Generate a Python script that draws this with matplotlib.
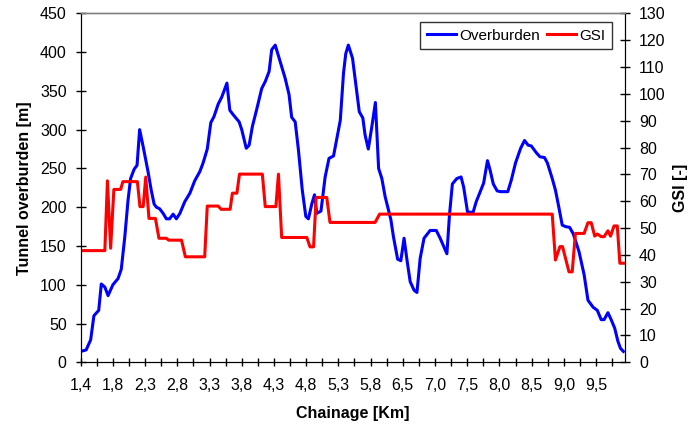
import numpy as np
import matplotlib
matplotlib.use('Agg')
import matplotlib.pyplot as plt

plt.rcParams['font.family'] = ['Liberation Sans', 'DejaVu Sans']

# chainage labels (category axis, one label every 10 samples)
chainage_labels = ['1,4', '1,8', '2,3', '2,8', '3,3', '3,8', '4,3', '4,8', '5,3',
                   '5,8', '6,5', '7,0', '7,5', '8,0', '8,5', '9,0', '9,5']
label_pos = np.arange(0, 170, 10)
minor_pos = np.arange(5, 170, 10)

# overburden [m] (x = sample index along chainage)
ob_x = [0, 1.7, 3.1, 4.1, 5.6, 6.4, 7.5, 8.5, 10.0, 11.6, 12.6, 13.7, 14.7, 15.5,
        16.6, 17.5, 18.3, 19.4, 20.9, 21.9, 22.8, 23.5, 24.5, 25.6, 26.6, 27.6,
        28.7, 29.7, 30.8, 32.3, 33.9, 35.4, 37.0, 38.0, 39.3, 40.4, 41.4, 42.7,
        43.8, 45.4, 46.3, 47.4, 49.2, 50.0, 51.4, 52.3, 53.3, 54.7, 56.2, 57.3,
        58.5, 59.3, 60.4, 61.9, 63.5, 64.7, 65.5, 66.6, 67.6, 68.8, 69.9, 70.7,
        71.8, 72.6, 73.3, 74.6, 75.9, 77.1, 78.5, 80.6, 81.6, 82.3, 83.1, 84.4,
        85.9, 86.5, 87.6, 88.3, 89.3, 90.4, 91.5, 92.5, 93.5, 94.5, 96.3, 97.1,
        98.4, 99.4, 100.4, 101.3, 102.3, 103.5, 104.4, 105.4, 106.6, 108.5, 110.4,
        111.6, 113.7, 114.5, 115.4, 116.8, 118.1, 118.9, 120.1, 121.8, 122.8,
        125.1, 126.3, 127.1, 128.1, 129.3, 130.4, 132.6, 133.7, 135.0, 136.6,
        137.8, 138.9, 139.9, 141.5, 142.6, 144.0, 144.9, 146.4, 147.4, 148.5,
        149.5, 150.5, 151.8, 152.9, 154.7, 156.3, 157.5, 159.1, 160.4, 161.6,
        162.5, 163.7, 164.7, 165.8, 166.8, 167.6, 168.5]
overburden = [14, 16, 29, 60, 67, 101, 97, 86, 100, 108, 120, 162, 209, 237,
              249, 254, 300, 278, 246, 222, 204, 200, 198, 192, 185, 185,
              191, 185, 192, 207, 218, 234, 246, 257, 275, 309, 317, 333,
              342, 360, 325, 319, 310, 300, 276, 280, 304, 327, 353, 362,
              375, 403, 409, 388, 366, 345, 316, 310, 274, 222, 188, 185,
              205, 216, 192, 195, 239, 263, 266, 312, 373, 398, 409, 392,
              342, 323, 315, 293, 275, 304, 335, 250, 237, 214, 184, 162,
              133, 131, 160, 132, 104, 93, 90, 134, 160, 170, 170,
              160, 140, 190, 230, 237, 239, 226, 194, 193, 207,
              231, 260, 248, 230, 221, 220, 220, 235, 257, 276,
              286, 280, 279, 270, 265, 264, 257, 237, 222, 199,
              177, 175, 174, 166, 143, 113, 80, 71, 67, 55,
              55, 64, 55, 44, 27, 18, 14]

# GSI [-]
gsi_x = [0, 7.5, 8.3, 9.3, 10.3, 12.4, 13.1, 17.6, 18.4, 19.4, 20.2, 21.2, 23.2,
         24.3, 26.6, 27.3, 31.3, 32.5, 38.5, 39.3, 42.7, 43.6, 46.4, 47.1, 48.5,
         49.3, 56.4, 57.3, 60.6, 61.4, 62.4, 70.2, 71.2, 72.3, 73.1, 76.4, 77.4,
         91.4, 92.8, 146.4, 147.4, 148.8, 149.6, 151.6, 152.6, 153.6, 156.3,
         157.5, 158.5, 159.6, 160.4, 161.6, 162.5, 163.7, 164.5, 165.6, 166.6,
         167.4, 168.7]
gsi = [41.6, 41.6, 67.6, 42.5, 64.4, 64.4, 67.3, 67.3, 58, 58, 69, 53.6, 53.6,
       46.2, 46.2, 45.5, 45.5, 39.3, 39.3, 58.2, 58.2, 57, 57, 63, 63,
       70.1, 70.1, 58, 58, 70.1, 46.5, 46.5, 43, 43, 61.4, 61.4, 52.1,
       52.1, 55.2, 55.2, 38.1, 43.1, 43.1, 33.7, 33.7, 48, 48,
       52, 52, 47, 47.8, 46.8, 46.8, 49, 47, 50.8, 50.8,
       36.9, 36.9]

fig = plt.figure(figsize=(6.95, 4.26), dpi=100, facecolor='white')
ax = fig.add_axes([0.1161, 0.1495, 0.7832, 0.8193])
ax2 = ax.twinx()

l1, = ax.plot(ob_x, overburden, color='#0000FF', linewidth=2.2, label='Overburden')
l2, = ax2.plot(gsi_x, gsi, color='#FF0000', linewidth=2.2, label='GSI')

ax.set_xlim(0, 169)
ax.set_ylim(0, 450)
ax2.set_ylim(0, 130)
ax.set_yticks(np.arange(0, 451, 50))
ax2.set_yticks(np.arange(0, 131, 10))
ax.set_xticks(label_pos)
ax.set_xticklabels(chainage_labels)
ax.set_xticks(minor_pos, minor=True)

for a in (ax, ax2):
    a.tick_params(axis='y', which='both', direction='inout', length=7.2,
                  width=1, labelsize=11.5, pad=6.5, colors='black')
    a.spines['top'].set_color('#808080')
    a.spines['top'].set_linewidth(1)
ax.tick_params(axis='x', which='both', direction='inout', length=5.2,
               width=1, labelsize=11.5, pad=9, colors='black')
ax2.spines['right'].set_color('black')

ax.set_xlabel('Chainage [Km]', fontsize=11.5, fontweight='bold', labelpad=9)
ax.set_ylabel('Tunnel overburden [m]', fontsize=11.5, fontweight='bold', labelpad=6)
ax2.set_ylabel('GSI [-]', fontsize=11.5, fontweight='bold', rotation=90, labelpad=5)

leg = ax.legend(handles=[l1, l2], loc='upper right', ncol=2, fontsize=11,
                frameon=True, fancybox=False, edgecolor='black',
                bbox_to_anchor=(0.9767, 0.976), borderaxespad=0,
                handlelength=1.9, handletextpad=0.2, columnspacing=0.5,
                borderpad=0.45)
leg.get_frame().set_linewidth(1)

fig.savefig('out.png', dpi=100)
